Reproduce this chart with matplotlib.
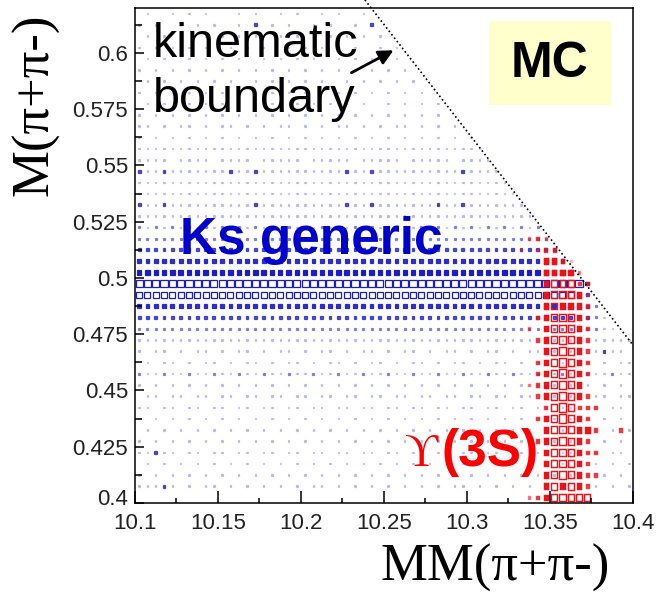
import numpy as np
import matplotlib.pyplot as plt
import matplotlib.transforms as mtransforms
from matplotlib.patches import Rectangle

# binning: 60 bins in MM(pi+pi-), 44 bins in M(pi+pi-)
mm_lo, mm_hi, n_mm = 10.1, 10.4, 60
m_lo, m_hi, n_m = 0.4, 0.62, 44

# box content levels per bin (0 = empty, 9 = largest), top row first
ks_rows = [
    "0100101010" "0010100101" "001010010",
    "1010010101" "0010301010" "0101001030",
    "0101010010" "1010100101" "0101010101" "0",
    "1010101010" "0101010010" "1010101001" "01",
    "0101001010" "1010010101" "0100101010" "010",
    "1010101010" "1010101010" "1010101010" "1010",
    "0101010101" "0100101010" "1010010101" "01010",
    "1010101010" "1010101010" "1010101010" "101010",
    "0101001010" "1010101001" "0101010100" "1010101",
    "1010101010" "1010101010" "1010101010" "10101010",
    "1101011010" "1101010110" "1010110101" "011010101",
    "1010101010" "1010101010" "1010101010" "1010101010" "1",
    "1111111111" "1111111111" "1111111111" "1111111111" "11",
    "1111011110" "1111011111" "0111110111" "1101111101" "111",
    "3113111111" "1311311111" "1111131131" "1111111113" "1111",
    "1111111111" "1111111111" "1111111111" "1111111111" "11111",
    "1111111111" "1111111111" "1111111111" "1111111111" "111111",
    "3113111111" "1111311111" "1111131131" "1111113113" "1111111",
    "1111111111" "1111111111" "1111111111" "1111111111" "11111111",
    "2121212121" "2121212121" "2121212121" "2121212121" "212121212",
    "2222222222" "2222222222" "2222222222" "2222222222" "2222222222",
    "3333333333" "3333333333" "3333333333" "3333333333" "3333333333" "3",
    "4444444444" "4444444444" "4444444444" "4444444444" "4444444444" "44",
    "5555555555" "5555555555" "5555555555" "5555555555" "5555555555" "555",
    "9999999999" "9999999999" "9999999999" "9999999999" "9999999999" "99994",
    "7777777777" "7777777777" "7777777777" "7777777777" "7777777777" "77753",
    "4444444444" "4444444444" "4444444444" "4444444444" "4444444444" "444432",
    "3333333333" "3333333333" "3333333333" "3333333333" "3333333333" "3333321",
    "2222222222" "2222222222" "2222222222" "2222222222" "2222222222" "22222211",
    "1111111111" "1111111111" "1111111111" "1111111111" "1111111111" "1111111111",
    "1011010110" "1011010110" "1011010110" "1011010110" "1011010110" "1011013110",
    "0101101011" "0101101011" "0101101011" "0101101011" "0101101011" "0101101011",
    "2112112112" "1121121121" "1211211211" "2112112112" "1121121121" "1211211211",
    "1010101010" "1010101010" "1010101010" "1010101010" "1010101010" "1010101010",
    "0110110110" "1101101101" "1011011011" "0110110110" "1101101101" "1011011011",
    "1101101101" "1011011011" "0110110110" "1101101101" "1011011011" "0110110110",
    "1010101010" "1010101010" "1010101010" "1010101010" "1010101010" "1010101010",
    "0101010101" "0101010101" "0101010101" "0101010101" "0101010101" "0101010101",
    "1010101010" "1010101010" "1010101010" "1010101010" "1010101010" "1010101010",
    "1131101101" "1011011011" "0110110110" "1101101101" "1011011011" "0110110110",
    "0101010101" "0101010101" "0101010101" "0101010101" "0101010101" "0101010101",
    "1010101010" "1010101010" "1010101010" "1010101010" "1010101010" "1010101010",
    "1113101011" "0101010101" "0110101010" "1010101011" "0101010101" "0101010101",
]

ups_rows = [
    "", "", "", "", "", "", "", "", "", "", "", "", "", "", "", "", "", "", "", "",
    "0000000000" "0000000000" "0000000000" "0000000000" "0000000232",
    "0000000000" "0000000000" "0000000000" "0000000000" "0000002023" "3",
    "0000000000" "0000000000" "0000000000" "0000000000" "0000000005" "541",
    "0000000000" "0000000000" "0000000000" "0000000000" "0000000005" "5552",
    "0000000000" "0000000000" "0000000000" "0000000000" "0000000005" "66733",
    "0000000000" "0000000000" "0000000000" "0000000000" "0000000005" "77752",
    "0000000000" "0000000000" "0000000000" "0000000000" "0000000005" "65553",
    "0000000000" "0000000000" "0000000000" "0000000000" "0000000035" "78752",
    "0000000000" "0000000000" "0000000000" "0000000000" "0000000205" "78753",
    "0000000000" "0000000000" "0000000000" "0000000000" "0000000035" "78753",
    "0000000000" "0000000000" "0000000000" "0000000000" "0000000005" "78753",
    "0000000000" "0000000000" "0000000000" "0000000000" "0000000035" "79753",
    "0000000000" "0000000000" "0000000000" "0000000000" "0000000035" "79753",
    "0000000000" "0000000000" "0000000000" "0000000000" "0000000235" "7875",
    "0000000000" "0000000000" "0000000000" "0000000000" "0000000035" "78753",
    "0000000000" "0000000000" "0000000000" "0000000000" "0000000003" "79733" "3",
    "0000000000" "0000000000" "0000000000" "0000000000" "0000000035" "79753",
    "0000000000" "0000000000" "0000000000" "0000000000" "0000000005" "77755" "3003",
    "0000000000" "0000000000" "0000000000" "0000000000" "0000000235" "78753",
    "0000000000" "0000000000" "0000000000" "0000000000" "0000000005" "78753" "3",
    "0000000000" "0000000000" "0000000000" "0000000000" "0000000005" "77753",
    "0000000000" "0000000000" "0000000000" "0000000000" "0000000005" "78753" "3",
    "0000000000" "0000000000" "0000000000" "0000000000" "0000000005" "75753",
    "0000000000" "0000000000" "0000000000" "0000000000" "0000000235" "77777",
]

# fraction of the full box size and opacity for each level
box_frac = [0.0, 0.2, 0.28, 0.38, 0.5, 0.6, 0.72, 0.8, 0.88, 0.97]
box_alpha = [0.0, 0.22, 0.45, 0.75, 0.9, 1.0, 1.0, 1.0, 1.0, 1.0]

ks_color = "#1c1cc8"
ups_color = "#e8141a"

fig = plt.figure(figsize=(6.57, 5.98), dpi=100)
ax = fig.add_axes([135 / 657, 1 - 503 / 598, 498 / 657, 495 / 598])

mm_w = (mm_hi - mm_lo) / n_mm
m_h = (m_hi - m_lo) / n_m


def draw_boxes(rows, color, box_w, box_h, lw):
    for r, row in enumerate(rows):
        j = n_m - 1 - r
        yc = m_lo + (j + 0.5) * m_h
        for i, ch in enumerate(row.ljust(n_mm, "0")):
            lev = int(ch)
            if lev == 0:
                continue
            f = box_frac[lev]
            xc = mm_lo + (i + 0.5) * mm_w
            w, h = f * box_w, f * box_h
            filled = lev <= 5
            ax.add_patch(Rectangle((xc - w / 2, yc - h / 2), w, h,
                                   facecolor=color if filled else "none",
                                   edgecolor=color, linewidth=lw,
                                   alpha=box_alpha[lev]))


draw_boxes(ks_rows, ks_color, 0.0045, 0.0033, 0.9)
draw_boxes(ups_rows, ups_color, 0.0046, 0.0039, 1.05)

ax.set_xlim(mm_lo, mm_hi)
ax.set_ylim(m_lo, m_hi)

ax.set_xticks(np.arange(10.1, 10.401, 0.05))
ax.set_xticklabels(["10.1", "10.15", "10.2", "10.25", "10.3", "10.35", "10.4"])
ax.set_xticks(np.arange(10.125, 10.4, 0.05), minor=True)
ax.set_yticks(np.arange(0.4, 0.601, 0.025))
ax.set_yticklabels(["0.4", "0.425", "0.45", "0.475", "0.5", "0.525", "0.55", "0.575", "0.6"])
ax.set_yticks(np.arange(0.4125, 0.62, 0.025), minor=True)

ax.tick_params(axis="both", which="both", direction="in", width=1.1,
               colors="black", labelcolor="#222222", labelsize=16, top=False, right=False)
ax.tick_params(axis="x", which="major", length=8.5, pad=7)
ax.tick_params(axis="x", which="minor", length=3.6)
ax.tick_params(axis="y", which="major", length=6.5, pad=5)
ax.tick_params(axis="y", which="minor", length=5)
for lab in ax.get_xticklabels() + ax.get_yticklabels():
    lab.set_family("Liberation Sans")
for s in ax.spines.values():
    s.set_linewidth(1.1)

# lift the corner label a little so it clears "10.1"
corner = ax.yaxis.get_major_ticks()[0].label1
corner.set_transform(corner.get_transform()
                     + mtransforms.ScaledTranslation(0, 4 / 72, fig.dpi_scale_trans))

# kinematic limit
ax.plot([10.2385, 10.4], [0.6236, 0.4702], color="black", lw=1.2,
        linestyle=(0, (1, 1.6)), clip_on=False)


def px(x, y):
    return x / 657, 1 - y / 598


fig.text(*px(153, 57), "kinematic", fontsize=35, family="Liberation Sans",
         ha="left", va="baseline")
fig.text(*px(153, 112), "boundary", fontsize=35, family="Liberation Sans",
         ha="left", va="baseline")
ax.annotate("", xy=px(396, 49), xytext=px(349, 74), xycoords="figure fraction",
            textcoords="figure fraction",
            arrowprops=dict(arrowstyle="-|>", color="black", lw=2.0, mutation_scale=22))

ax.add_patch(Rectangle(px(489, 105), 122 / 657, 84 / 598, transform=fig.transFigure,
                       facecolor="#ffffcc", edgecolor="none", clip_on=False))
fig.text(*px(550, 64), "MC", fontsize=36, fontweight="bold", family="Liberation Sans",
         ha="center", va="center")

fig.text(*px(180, 254), "Ks generic", fontsize=37, fontweight="bold",
         family="Liberation Sans", color="#0000cc", ha="left", va="baseline")

fig.text(*px(405, 466), "\u03d2", fontsize=33, family=["Liberation Serif", "DejaVu Serif"],
         color="#ff0000", ha="left", va="baseline")
fig.text(*px(442, 466), "(3S)", fontsize=37, fontweight="bold", family="Liberation Sans",
         color="#ff0000", ha="left", va="baseline")

fig.text(*px(35, 105), "M(\u03c0+\u03c0-)", fontsize=38, family="Liberation Serif",
         rotation=90, ha="center", va="center")
fig.text(*px(495, 568), "MM(\u03c0+\u03c0-)", fontsize=38, family="Liberation Serif",
         ha="center", va="center")

fig.savefig("out.png", dpi=100)
